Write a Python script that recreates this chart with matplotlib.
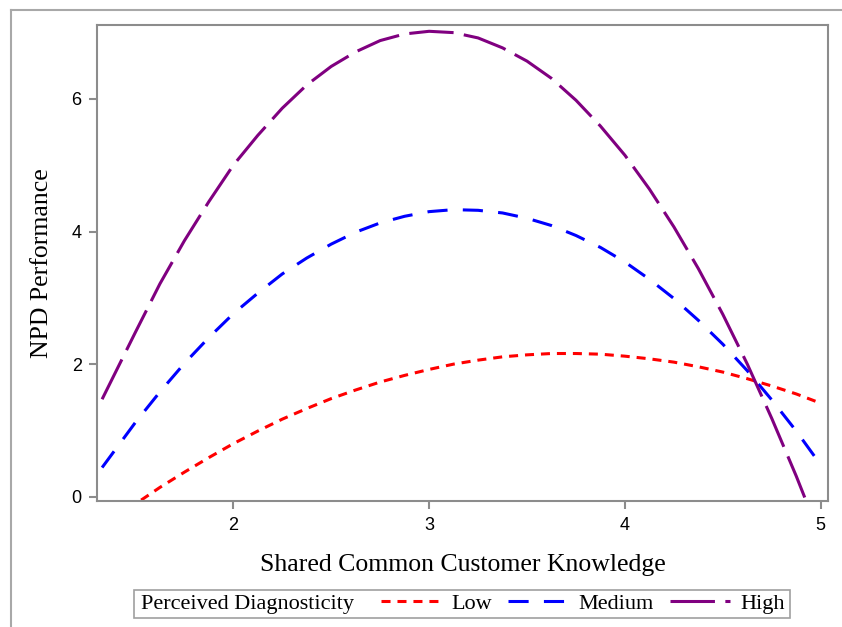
import matplotlib
matplotlib.use("Agg")
import matplotlib.pyplot as plt
from matplotlib.lines import Line2D
from matplotlib.patches import Rectangle

# Values
knowledge = [1.33, 1.5, 1.625, 1.75, 1.875, 2.0, 2.125, 2.25, 2.375, 2.5,
             2.625, 2.75, 2.875, 3.0, 3.125, 3.25, 3.375, 3.5, 3.625, 3.75,
             3.875, 4.0, 4.125, 4.25, 4.375, 4.5, 4.625, 4.75, 4.875, 5.0]

perf_low = [-0.47, -0.11, 0.14, 0.37, 0.59, 0.80, 0.99, 1.17, 1.33, 1.48,
            1.61, 1.73, 1.83, 1.92, 2.00, 2.06, 2.11, 2.14, 2.16, 2.16,
            2.15, 2.12, 2.08, 2.03, 1.96, 1.88, 1.78, 1.67, 1.55, 1.41]

perf_medium = [0.44, 1.12, 1.58, 2.01, 2.40, 2.76, 3.07, 3.36, 3.60, 3.81,
               3.99, 4.13, 4.23, 4.30, 4.33, 4.32, 4.28, 4.20, 4.09, 3.94,
               3.76, 3.54, 3.28, 2.99, 2.66, 2.30, 1.90, 1.46, 0.99, 0.48]

perf_high = [1.47, 2.48, 3.21, 3.86, 4.45, 5.00, 5.45, 5.86, 6.21, 6.49,
             6.71, 6.88, 6.98, 7.02, 7.00, 6.92, 6.77, 6.57, 6.31, 5.98,
             5.59, 5.15, 4.64, 4.07, 3.44, 2.75, 2.00, 1.18, 0.31, -0.62]

series_names = ["Low", "Medium", "High"]
x_ticks = [2, 3, 4, 5]
y_ticks = [0, 2, 4, 6]

SERIF = ["Liberation Serif", "DejaVu Serif"]
SANS = ["Liberation Sans", "DejaVu Sans"]
GRAY = "#8c8c8c"

plt.rcParams["lines.scale_dashes"] = False

fig = plt.figure(figsize=(8.42, 6.27), dpi=100)
ax = fig.add_axes([97 / 842, 1 - 500.5 / 627, 731 / 842, 475.5 / 627])

styles = [
    dict(color="#ff0000", dashes=(6.5, 5.0)),
    dict(color="#0000ff", dashes=(14.5, 11.0)),
    dict(color="#800080", dashes=(32.0, 7.5)),
]
lines = []
for vals, st, name in zip([perf_low, perf_medium, perf_high], styles, series_names):
    ln, = ax.plot(knowledge, vals, color=st["color"], lw=2.2,
                  dashes=st["dashes"], label=name)
    lines.append(ln)

ax.set_xlim(1.304, 5.037)
ax.set_ylim(-0.057, 7.115)
ax.set_xticks(x_ticks)
ax.set_yticks(y_ticks)

for sp in ax.spines.values():
    sp.set_color(GRAY)
    sp.set_linewidth(1.5)
ax.tick_params(axis="both", colors=GRAY, length=6, width=1.5, pad=5,
               labelcolor="black", labelsize=13)
ax.tick_params(axis="x", pad=6)
for lab in ax.get_xticklabels() + ax.get_yticklabels():
    lab.set_family(SANS)

ax.set_xlabel("Shared Common Customer Knowledge", family=SERIF, fontsize=18.5)
ax.set_ylabel("NPD Performance", family=SERIF, fontsize=18.5)
ax.xaxis.set_label_coords(0.5, -0.135)
ax.yaxis.set_label_coords(-0.075, 0.5)
ax.xaxis.label.set_va("center")
ax.yaxis.label.set_va("center")

# outer frame (cut by the image edge on right and bottom)
fig.add_artist(Line2D([11 / 842, 11 / 842], [1 - 10 / 627, 0], color="#a8a8a8",
                      lw=1.5, transform=fig.transFigure))
fig.add_artist(Line2D([11 / 842, 1], [1 - 10 / 627, 1 - 10 / 627], color="#a8a8a8",
                      lw=1.5, transform=fig.transFigure))

# legend: framed box with inline title
fig.add_artist(Rectangle((134 / 842, 1 - 618 / 627), 656 / 842, 28 / 627,
                         transform=fig.transFigure, fill=False,
                         edgecolor="#a0a0a0", lw=1.2))
fig.text(141 / 842, 1 - 604 / 627, "Perceived Diagnosticity", family=SERIF,
         fontsize=16, va="center", ha="left")
leg = fig.legend(handles=lines, labels=series_names, ncol=3, frameon=False,
                 loc="center left", bbox_to_anchor=(381 / 842, 1 - 604 / 627),
                 prop={"family": SERIF, "size": 16}, handlelength=2.7,
                 handletextpad=0.45, columnspacing=0.75, borderpad=0,
                 borderaxespad=0)

fig.savefig("out.png", dpi=100)
